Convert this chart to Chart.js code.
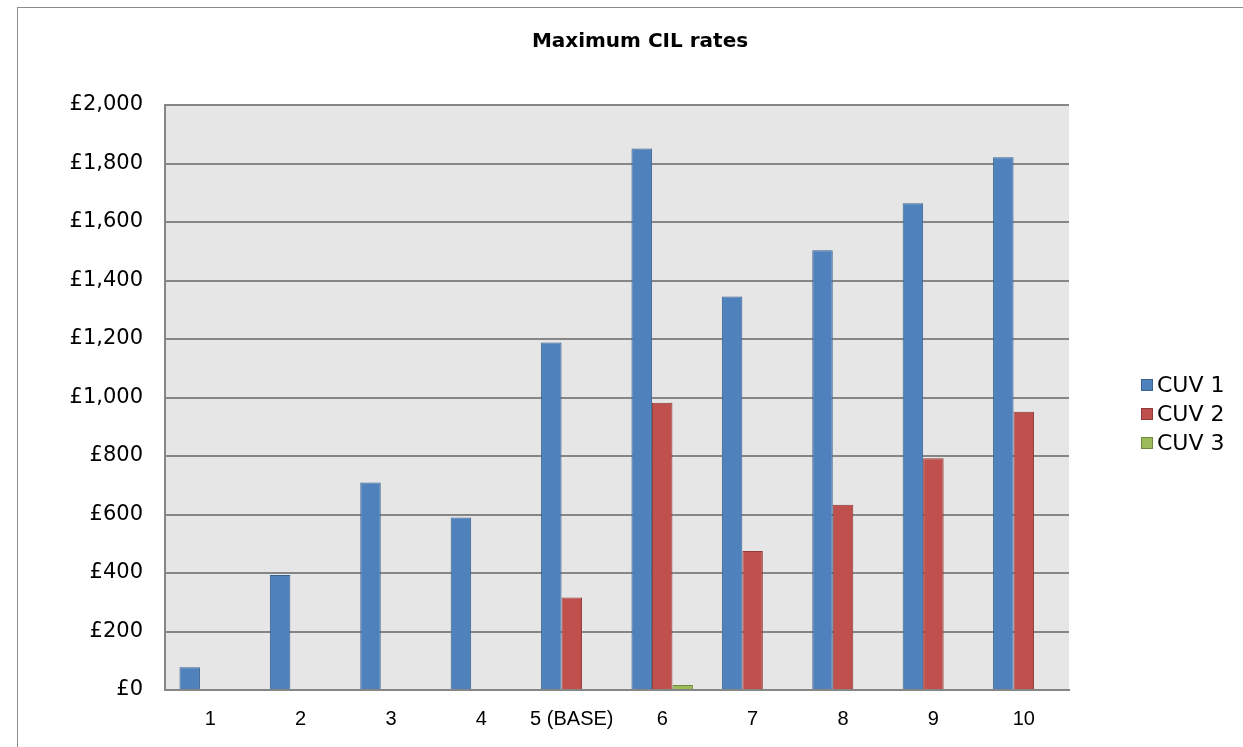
<!DOCTYPE html>
<html>
<head>
<meta charset="utf-8">
<script src="https://cdn.jsdelivr.net/npm/chart.js@4.4.1/dist/chart.umd.min.js"></script>
<style>
  html, body { margin: 0; padding: 0; background: #ffffff; overflow: hidden; }
  #wrap { position: absolute; left: 0; top: 0; width: 1243px; height: 747px; overflow: hidden; }
  #frame { position: absolute; left: 17px; top: 7px; width: 1260px; height: 760px; border: 1px solid #8c8c8c; box-sizing: border-box; }
  canvas { position: absolute; left: 0; top: 0; }
</style>
</head>
<body>
<div id="wrap">
  <div id="frame"></div>
  <canvas id="c" width="1280" height="747"></canvas>
</div>
<script>
const categories = ['1', '2', '3', '4', '5 (BASE)', '6', '7', '8', '9', '10'];
const cuv1 = [78, 393, 709, 590, 1188, 1851, 1345, 1503, 1664, 1821];
const cuv2 = [0, 0, 0, 0, 316, 982, 475, 633, 792, 951];
const cuv3 = [0, 0, 0, 0, 0, 17, 0, 0, 0, 0];
const seriesNames = ['CUV 1', 'CUV 2', 'CUV 3'];
const yTicks = [0, 200, 400, 600, 800, 1000, 1200, 1400, 1600, 1800, 2000];

const FONT = "'DejaVu Sans', 'Liberation Sans', Arial, sans-serif";
const FONT_X = "'Liberation Sans', Arial, sans-serif";
const fills = ['#4f81bd', '#c0504d', '#9bbb59'];
const borders = ['#3a6291', '#8e3b39', '#71893f'];

const legendPlugin = {
  id: 'sideLegend',
  afterDraw(chart) {
    const ctx = chart.ctx;
    ctx.save();
    ctx.font = '22px ' + FONT;
    ctx.textBaseline = 'middle';
    ctx.textAlign = 'left';
    chart.data.datasets.forEach((ds, i) => {
      const y = 385 + i * 29;
      ctx.fillStyle = ds.backgroundColor;
      ctx.fillRect(1141, y - 6, 12, 12);
      ctx.strokeStyle = ds.borderColor;
      ctx.lineWidth = 1;
      ctx.strokeRect(1141.5, y - 5.5, 11, 11);
      ctx.fillStyle = '#000000';
      ctx.fillText(ds.label, 1157, y + 1);
    });
    ctx.restore();
  }
};

const plotBg = {
  id: 'plotBg',
  beforeDraw(chart) {
    const a = chart.chartArea;
    const ctx = chart.ctx;
    ctx.save();
    ctx.fillStyle = '#e6e6e6';
    ctx.fillRect(a.left, a.top, a.right - a.left, a.bottom - a.top);
    ctx.restore();
  }
};

new Chart(document.getElementById('c'), {
  type: 'bar',
  data: {
    labels: categories,
    datasets: [cuv1, cuv2, cuv3].map((d, i) => ({
      label: seriesNames[i],
      data: d,
      backgroundColor: fills[i],
      borderColor: borders[i],
      borderWidth: 1,
      categoryPercentage: 0.68,
      barPercentage: 1.0,
      yAxisID: 'y'
    }))
  },
  options: {
    responsive: false,
    animation: false,
    devicePixelRatio: 1,
    layout: { padding: 0 },
    plugins: {
      legend: { display: false },
      tooltip: { enabled: false },
      title: {
        display: true,
        text: 'Maximum CIL rates',
        color: '#000000',
        font: { family: FONT, size: 20, weight: 'bold', lineHeight: 1.2 },
        padding: { top: 30, bottom: 51 }
      }
    },
    scales: {
      x: {
        grid: { display: false, drawTicks: false },
        border: { color: '#868686', width: 2 },
        ticks: { color: '#000000', font: { family: FONT_X, size: 20 }, padding: 17, maxRotation: 0 },
        afterFit(scale) { scale.height = 57; }
      },
      y: {
        position: 'left',
        min: 0, max: 2000,
        afterBuildTicks(scale) { scale.ticks = yTicks.map(v => ({ value: v })); },
        grid: { color: '#868686', lineWidth: 2, drawTicks: false },
        border: { color: '#868686', width: 2 },
        ticks: {
          color: '#000000', font: { family: FONT, size: 21 }, padding: 22,
          callback: v => '£' + Number(v).toLocaleString('en-GB')
        },
        afterFit(scale) { scale.width = 165; }
      },
      rightSpace: {
        type: 'linear',
        position: 'right',
        min: 0, max: 2000,
        grid: { display: false, drawTicks: false },
        border: { display: false },
        ticks: { display: false },
        afterFit(scale) { scale.width = 211; }
      }
    }
  },
  plugins: [plotBg, legendPlugin]
});
</script>
</body>
</html>
